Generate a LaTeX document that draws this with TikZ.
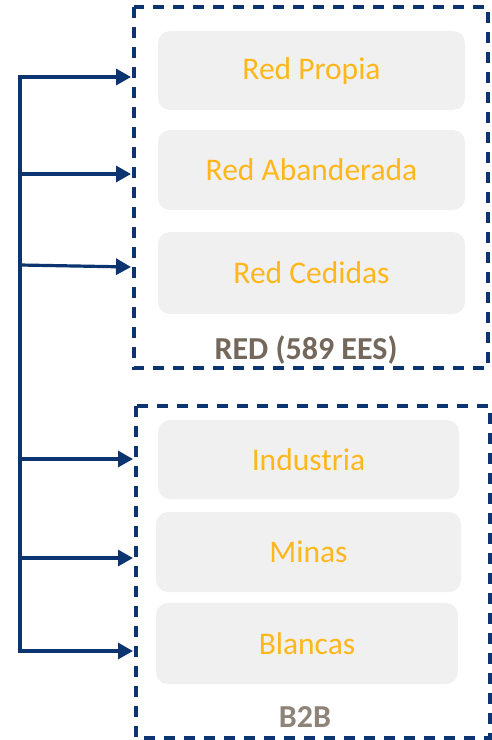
\documentclass[tikz,border=0pt]{standalone}
\usepackage{fontspec}
\setmainfont{Carlito}
\usetikzlibrary{arrows.meta}
\definecolor{navy}{HTML}{0B3470}
\definecolor{gold}{HTML}{FFB71B}
\definecolor{taupe}{HTML}{74685C}
\definecolor{taupelt}{HTML}{8E8378}
\definecolor{panel}{HTML}{F0F0F0}
\tikzset{
  group/.style={draw=navy, line width=3.2pt, dash pattern=on 11pt off 9pt},
  item/.style={fill=panel, rounded corners=12pt},
  itemtext/.style={text=gold, font=\fontsize{31.5}{34}\selectfont},
  grouplabel/.style={font=\bfseries\fontsize{32}{34}\selectfont},
  link/.style={draw=navy, line width=3.2pt, -{Triangle[length=15pt,width=16pt]}},
}
\begin{document}
\begin{tikzpicture}[x=1pt,y=-1pt]
\useasboundingbox (0,0) rectangle (491,740);
% groups
\draw[group] (134,7) rectangle (488,368);
\draw[group] (136,406) rectangle (490,738);
% items
\fill[item] (158,31) rectangle (465,110);
\node[itemtext] (p1) at (311.5,71) {Red Propia};
\fill[item] (158,130) rectangle (465,210);
\node[itemtext] (p2) at (311.5,170) {Red Abanderada};
\fill[item] (158,232) rectangle (465,314);
\node[itemtext] (p3) at (311.5,273) {Red Cedidas};
\fill[item] (158,420) rectangle (459,499);
\node[itemtext] (b1) at (308.5,460) {Industria};
\fill[item] (156,512) rectangle (461,592);
\node[itemtext] (b2) at (308.5,552) {Minas};
\fill[item] (156,603) rectangle (458,684);
\node[itemtext] (b3) at (307,644) {Blancas};
% labels
\node[grouplabel, text=taupe] (lred) at (306,350) {RED (589 EES)};
\node[grouplabel, text=taupelt] (lb2b) at (305,717) {B2B};
% spine
\coordinate (s0) at (20,75);
\coordinate (s1) at (20,77);
\coordinate (s2) at (20,174);
\coordinate (s3) at (20,265);
\coordinate (s4) at (20,459);
\coordinate (s5) at (20,558);
\coordinate (s6) at (20,651);
\coordinate (t1) at (131,77);
\coordinate (t2) at (131,174);
\coordinate (t3) at (131,267);
\coordinate (t4) at (133,459);
\coordinate (t5) at (133,558);
\coordinate (t6) at (133,651);
\draw[navy, line width=3.2pt] (s0) -- (20,652.6);
\draw[link] (s1) -- (t1);
\draw[link] (s2) -- (t2);
\draw[link] (s3) -- (t3);
\draw[link] (s4) -- (t4);
\draw[link] (s5) -- (t5);
\draw[link] (s6) -- (t6);
\end{tikzpicture}
\end{document}
